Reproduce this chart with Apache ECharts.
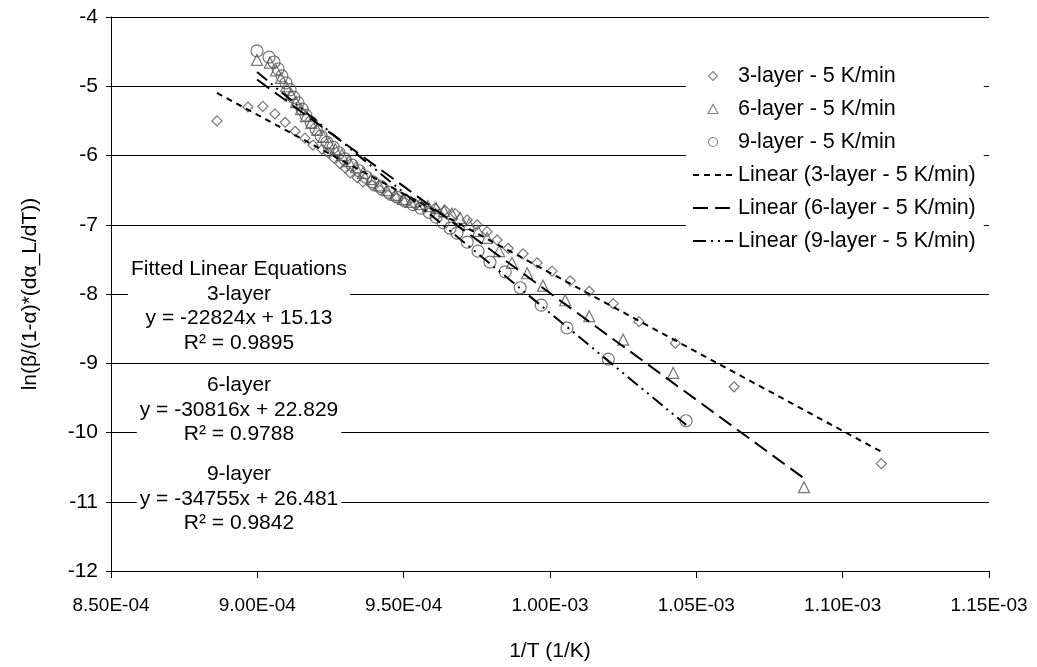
<!DOCTYPE html>
<html>
<head>
<meta charset="utf-8">
<script src="https://cdn.jsdelivr.net/npm/echarts@6/dist/echarts.min.js"></script>
<style>
  html, body { margin: 0; padding: 0; background: #fff; }
  #chart { width: 1037px; height: 667px; }
</style>
</head>
<body>
<div id="chart"></div>
<script>
// ---- measured values: 1/T (1/K) and ln(beta/(1-alpha)*(dalpha_L/dT)) ----
const x3 = [0.0008862, 0.0008968, 0.0009019, 0.0009060, 0.0009095, 0.0009129, 0.0009163, 0.0009190,
  0.0009221, 0.0009242, 0.0009262, 0.0009283, 0.0009300, 0.0009317, 0.0009341, 0.0009361, 0.0009392,
  0.0009419, 0.0009447, 0.0009477, 0.0009505, 0.0009539, 0.0009573, 0.0009607, 0.0009641, 0.0009676,
  0.0009717, 0.0009751, 0.0009785, 0.0009819, 0.0009857, 0.0009908, 0.0009956, 0.0010007, 0.0010069,
  0.0010134, 0.0010216, 0.0010304, 0.0010428, 0.0010629, 0.0011132];
const y3 = [-5.50, -5.30, -5.29, -5.40, -5.52, -5.65, -5.75, -5.85,
  -5.91, -5.96, -6.04, -6.12, -6.18, -6.25, -6.32, -6.38, -6.43,
  -6.50, -6.57, -6.61, -6.67, -6.71, -6.74, -6.76, -6.79, -6.84,
  -6.93, -7.00, -7.10, -7.22, -7.34, -7.42, -7.55, -7.67, -7.81,
  -7.96, -8.14, -8.40, -8.71, -9.34, -10.45];

const x6 = [0.0008999, 0.0009043, 0.0009064, 0.0009081, 0.0009098, 0.0009115, 0.0009132, 0.0009149,
  0.0009166, 0.0009184, 0.0009204, 0.0009225, 0.0009245, 0.0009266, 0.0009289, 0.0009313, 0.0009337,
  0.0009361, 0.0009389, 0.0009416, 0.0009443, 0.0009471, 0.0009498, 0.0009525, 0.0009556, 0.0009583,
  0.0009611, 0.0009638, 0.0009665, 0.0009693, 0.0009723, 0.0009754, 0.0009785, 0.0009826, 0.0009870,
  0.0009922, 0.0009976, 0.0010052, 0.0010134, 0.0010250, 0.0010421, 0.0010868];
const y6 = [-4.62, -4.66, -4.77, -4.88, -5.00, -5.11, -5.23, -5.33,
  -5.43, -5.53, -5.63, -5.73, -5.82, -5.91, -5.99, -6.08, -6.17,
  -6.25, -6.34, -6.43, -6.50, -6.57, -6.63, -6.67, -6.70, -6.73,
  -6.76, -6.80, -6.84, -6.90, -6.99, -7.09, -7.19, -7.38, -7.55,
  -7.70, -7.88, -8.09, -8.32, -8.66, -9.14, -10.79];

const x9 = [0.0008999, 0.0009040, 0.0009057, 0.0009071, 0.0009084, 0.0009098, 0.0009112, 0.0009125,
  0.0009139, 0.0009153, 0.0009166, 0.0009184, 0.0009201, 0.0009218, 0.0009238, 0.0009259, 0.0009279,
  0.0009300, 0.0009324, 0.0009348, 0.0009371, 0.0009395, 0.0009423, 0.0009450, 0.0009477, 0.0009505,
  0.0009532, 0.0009559, 0.0009587, 0.0009611, 0.0009635, 0.0009659, 0.0009682, 0.0009717, 0.0009754,
  0.0009795, 0.0009847, 0.0009898, 0.0009970, 0.0010058, 0.0010199, 0.0010465];
const y9 = [-4.49, -4.58, -4.65, -4.75, -4.85, -4.95, -5.05, -5.16,
  -5.24, -5.33, -5.42, -5.52, -5.62, -5.72, -5.81, -5.88, -5.96,
  -6.05, -6.14, -6.22, -6.31, -6.38, -6.45, -6.53, -6.60, -6.66,
  -6.71, -6.76, -6.82, -6.89, -6.97, -7.05, -7.12, -7.25, -7.38,
  -7.54, -7.68, -7.91, -8.16, -8.49, -8.94, -9.83];

// ---- fitted linear equations (slope, intercept) ----
const fitLayers = ['3-layer', '6-layer', '9-layer'];
const fitSlope = [-22824, -30816, -34755];
const fitIntercept = [15.13, 22.829, 26.481];
const fitR2 = ['0.9895', '0.9788', '0.9842'];

const seriesNames = ['3-layer - 5 K/min', '6-layer - 5 K/min', '9-layer - 5 K/min'];
const yTicks = { min: -12, max: -4, step: 1 };
const xTicks = { min: 0.00085, max: 0.00115, step: 0.00005 };

// ---- helpers ----
const pairs = (xs, ys) => xs.map((x, i) => [x, ys[i]]);
const fitLine = (xs, k) => {
  const lo = Math.min(...xs), hi = Math.max(...xs);
  return [[lo, fitSlope[k] * lo + fitIntercept[k]], [hi, fitSlope[k] * hi + fitIntercept[k]]];
};
const sciLabel = v => {
  const parts = Number(v).toExponential(2).split('e');
  const e = parseInt(parts[1], 10);
  return parts[0] + 'E' + (e < 0 ? '-' : '+') + String(Math.abs(e)).padStart(2, '0');
};

const FONT = '"Liberation Sans", Arial, sans-serif';
const MARK = '#555';

const xsAll = [x3, x6, x9];
const ysAll = [y3, y6, y9];
const symbols = ['diamond', 'triangle', 'circle'];
// legend icons drawn as paths so they keep a square aspect
const legendIcons = ['path://M5 0L10 5L5 10L0 5Z', 'path://M5 0L10 9L0 9Z', 'circle'];
const symbolSizes = [10, 11, 12];
const dashes = [[6, 5], [15, 7], [13, 5, 2, 5, 2, 5]];
const hollow = { color: 'rgba(255,255,255,0)', borderColor: MARK, borderWidth: 1.2 };

const scatterSeries = seriesNames.map((name, k) => ({
  name: name,
  type: 'scatter',
  symbol: symbols[k],
  symbolSize: symbolSizes[k],
  data: pairs(xsAll[k], ysAll[k]),
  itemStyle: hollow,
  silent: true,
  z: 2
}));

const trendSeries = seriesNames.map((name, k) => ({
  name: 'Linear (' + name + ')',
  type: 'line',
  symbol: 'none',
  data: fitLine(xsAll[k], k),
  lineStyle: { color: '#000', width: 2, type: dashes[k] },
  itemStyle: { color: '#000' },
  silent: true,
  z: 3
}));

const legendData = seriesNames.map((name, k) => ({
  name: name,
  icon: legendIcons[k],
  itemStyle: { color: 'rgba(255,255,255,0)', borderColor: '#666', borderWidth: 1.2 }
})).concat(seriesNames.map(name => ({
  name: 'Linear (' + name + ')',
  itemStyle: { opacity: 0 }
})));

const eqText = k => fitLayers[k] + '\ny = ' + fitSlope[k] + 'x + ' + fitIntercept[k] + '\nR\u00B2 = ' + fitR2[k];

const eqBlock = (text, top) => ({
  type: 'text',
  z: 10,
  style: {
    text: text,
    x: 239,
    y: top,
    align: 'center',
    verticalAlign: 'top',
    font: '21px ' + FONT,
    lineHeight: 24.5,
    fill: '#000',
    backgroundColor: '#fff',
    padding: [1, 3, 1, 3]
  }
});

const chart = echarts.init(document.getElementById('chart'), null, { renderer: 'canvas' });
chart.setOption({
  animation: false,
  backgroundColor: '#fff',
  grid: { left: 111, right: 48, top: 17, bottom: 96, containLabel: false },
  xAxis: {
    type: 'value',
    min: xTicks.min, max: xTicks.max, interval: xTicks.step,
    name: '1/T (1/K)',
    nameLocation: 'middle',
    nameGap: 70,
    nameTextStyle: { fontFamily: FONT, fontSize: 21, color: '#000' },
    axisLine: { show: true, lineStyle: { color: '#000', width: 1 } },
    axisTick: { show: true, inside: false, length: 7, lineStyle: { color: '#000' } },
    axisLabel: { formatter: sciLabel, fontFamily: FONT, fontSize: 19, color: '#000', margin: 25 },
    splitLine: { show: false }
  },
  yAxis: [{
    type: 'value',
    position: 'left',
    min: yTicks.min, max: yTicks.max, interval: yTicks.step,
    name: 'ln(\u03B2/(1-\u03B1)*(d\u03B1_L/dT))',
    nameLocation: 'middle',
    nameGap: 70,
    nameTextStyle: { fontFamily: FONT, fontSize: 21, color: '#000' },
    axisLine: { show: true, lineStyle: { color: '#000', width: 1 } },
    axisTick: { show: true, inside: false, length: 5, lineStyle: { color: '#000' } },
    axisLabel: { fontFamily: FONT, fontSize: 21, color: '#000', margin: 13 },
    splitLine: { show: true, lineStyle: { color: '#000', width: 1 } }
  }, {
    type: 'value',
    position: 'left',
    min: yTicks.min, max: yTicks.max, interval: yTicks.step,
    axisLine: { show: false },
    axisTick: { show: true, inside: true, length: 5, lineStyle: { color: '#000' } },
    axisLabel: { show: false },
    splitLine: { show: false }
  }],
  legend: {
    orient: 'vertical',
    left: 686,
    top: 57,
    padding: [8, 8, 8, 6],
    backgroundColor: '#fff',
    itemWidth: 40,
    itemHeight: 9,
    itemGap: 11,
    symbolKeepAspect: true,
    textStyle: { fontFamily: FONT, fontSize: 21.5, color: '#000', lineHeight: 20 },
    data: legendData,
    selectedMode: false
  },
  graphic: [
    eqBlock('Fitted Linear Equations\n' + eqText(0), 256),
    eqBlock(eqText(1), 372),
    eqBlock(eqText(2), 461)
  ],
  series: scatterSeries.concat(trendSeries)
});
</script>
</body>
</html>
